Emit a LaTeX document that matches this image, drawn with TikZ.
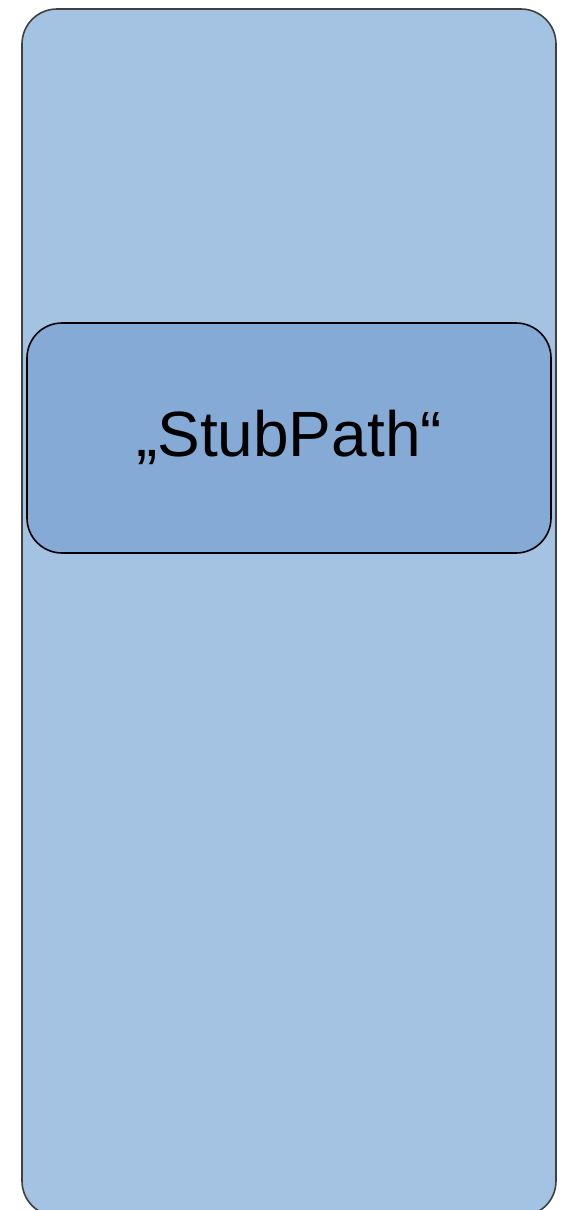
\documentclass[tikz,border=0pt]{standalone}
\usepackage{fontspec}
\setmainfont{Liberation Sans}
\usepackage{tikz}
\usetikzlibrary{positioning}
\definecolor{lane}{HTML}{A4C2E2}
\definecolor{stub}{HTML}{85AAD6}
\definecolor{laneedge}{HTML}{404040}

\begin{document}
\begin{tikzpicture}[x=1pt, y=-1pt,
  lanebox/.style={draw=laneedge, fill=lane, line width=1.6pt, rounded corners=35pt},
  stubbox/.style={draw=black, fill=stub, line width=1.6pt, rounded corners=35pt}]
\useasboundingbox (0,0) rectangle (575,1210);
% outer lane, running off the bottom edge
\draw[lanebox] (22,9) rectangle (556,1216);
% inner box with the label
\draw[stubbox] (27,323) rectangle (551,553);
\node[font=\fontsize{64}{70}\selectfont, inner sep=0pt] (stubpath) at (289,437) {„StubPath“};
\end{tikzpicture}
\end{document}
